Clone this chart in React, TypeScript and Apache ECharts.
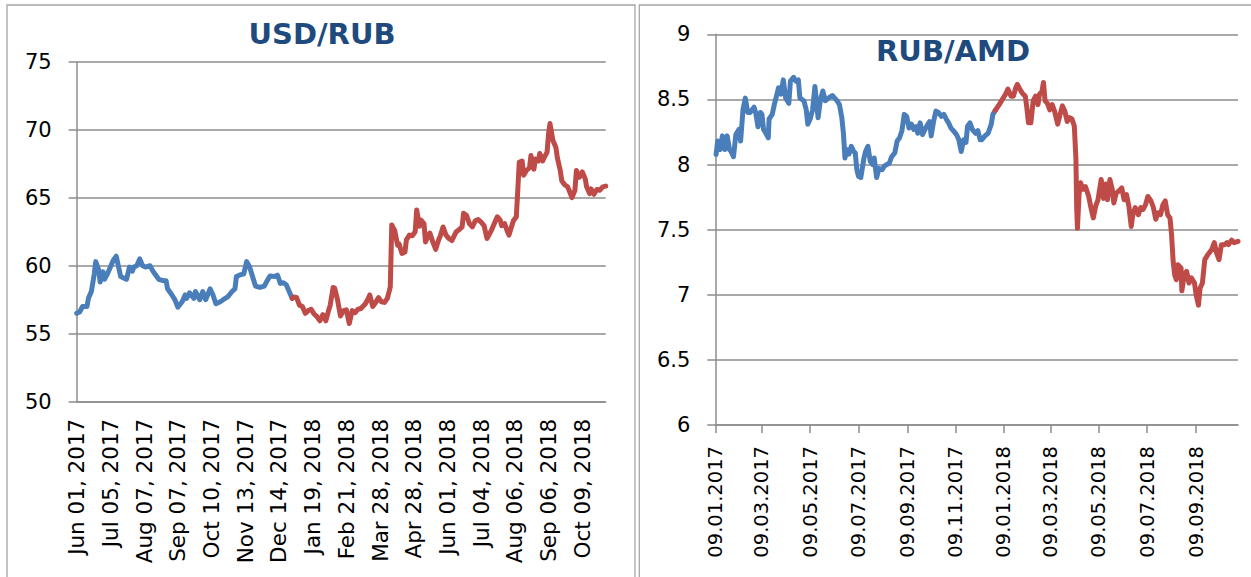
import React, { useEffect, useRef } from "react";
import * as echarts from "echarts";

// ---------- Left chart: USD/RUB (x = trading-day index since Jun 01, 2017) ----------
const usdLabelStep = 23;
const usdLastDay = 361;
const usdLabels = [
  "Jun 01, 2017", "Jul 05, 2017", "Aug 07, 2017", "Sep 07, 2017", "Oct 10, 2017",
  "Nov 13, 2017", "Dec 14, 2017", "Jan 19, 2018", "Feb 21, 2018", "Mar 28, 2018",
  "Apr 28, 2018", "Jun 01, 2018", "Jul 04, 2018", "Aug 06, 2018", "Sep 06, 2018",
  "Oct 09, 2018",
];
const usd2017 = [
  [0, 56.5], [2, 56.6], [4, 57.0], [7, 57.0], [8, 57.6], [10, 58.1], [12, 59.4], [13, 60.3],
  [15, 59.7], [16, 58.8], [18, 59.55], [19, 59.0], [21, 59.4], [23, 59.9], [25, 60.4], [27, 60.7],
  [30, 59.2], [32, 59.1], [34, 59.0], [36, 59.9], [38, 59.6], [39, 59.9], [41, 60.0], [43, 60.5],
  [45, 60.0], [47, 59.9], [50, 60.0], [52, 59.6], [54, 59.3], [56, 59.0], [59, 58.9], [61, 58.9],
  [62, 58.3], [65, 57.85], [67, 57.5], [69, 56.95], [72, 57.35], [74, 57.85], [75, 57.6], [77, 58.0],
  [80, 57.6], [81, 58.1], [84, 57.5], [86, 58.1], [88, 57.5], [91, 58.3], [93, 57.85], [95, 57.2],
  [98, 57.35], [100, 57.5], [103, 57.7], [106, 58.1], [108, 58.3], [109, 59.2], [111, 59.3], [114, 59.4],
  [116, 60.3], [118, 59.9], [120, 59.2], [122, 58.5], [125, 58.4], [128, 58.5], [130, 58.9], [132, 59.25],
  [135, 59.2], [137, 59.3], [139, 58.7], [141, 58.75], [143, 58.6], [145, 58.1], [147, 57.6],
];
const usd2018 = [
  [147, 57.6], [148, 57.7], [150, 57.67], [152, 57.1], [154, 57.0], [156, 56.5], [158, 56.7], [160, 56.8],
  [162, 56.45], [164, 56.25], [166, 55.95], [168, 56.4], [170, 55.95], [172, 56.75], [173, 57.1], [175, 58.4],
  [176, 58.35], [178, 57.5], [180, 56.3], [182, 56.7], [184, 56.75], [186, 55.75], [188, 56.7], [190, 56.55],
  [192, 56.8], [194, 56.85], [197, 57.2], [199, 57.6], [200, 57.85], [202, 57.0], [204, 57.3], [206, 57.65],
  [208, 57.35], [210, 57.3], [212, 57.6], [214, 58.45], [215, 63.0], [217, 62.6], [219, 61.5], [220, 61.6],
  [222, 60.9], [224, 61.0], [225, 61.9], [227, 62.25], [229, 62.2], [231, 62.5], [232, 64.1], [234, 62.9],
  [235, 63.35], [237, 63.1], [238, 61.75], [240, 62.25], [241, 62.4], [243, 61.75], [245, 61.2], [247, 61.9],
  [248, 62.15], [250, 62.85], [252, 62.25], [254, 62.0], [256, 61.85], [259, 62.5], [261, 62.65], [263, 62.85],
  [264, 63.85], [266, 63.7], [268, 63.1], [270, 62.85], [272, 63.3], [274, 63.4], [276, 63.2], [278, 62.95],
  [280, 62.0], [281, 62.2], [283, 62.6], [285, 63.1], [287, 63.6], [289, 63.35], [290, 62.95], [292, 63.1],
  [294, 62.5], [295, 62.25], [297, 62.95], [298, 63.3], [300, 63.6], [301, 65.55], [302, 67.6], [304, 67.7],
  [305, 66.65], [307, 67.0], [309, 67.2], [310, 68.1], [312, 67.1], [313, 67.85], [315, 67.7], [316, 68.25],
  [318, 67.7], [319, 67.95], [321, 68.35], [322, 69.7], [323, 70.45], [325, 69.2], [327, 68.7], [328, 67.95],
  [330, 67.0], [331, 66.25], [333, 65.95], [335, 65.8], [336, 65.55], [338, 65.0], [340, 65.55], [341, 67.0],
  [343, 66.5], [345, 66.9], [347, 66.4], [348, 65.8], [350, 65.3], [351, 65.65], [353, 65.25], [355, 65.6],
  [357, 65.55], [359, 65.8], [361, 65.85],
];

// ---------- Right chart: RUB/AMD (x = calendar days since 09.01.2017) ----------
const amdLastDay = 661;
const amdLabels = [
  "09.01.2017", "09.03.2017", "09.05.2017", "09.07.2017", "09.09.2017", "09.11.2017",
  "09.01.2018", "09.03.2018", "09.05.2018", "09.07.2018", "09.09.2018",
];
const amd2017 = [
  [1, 8.077], [3, 8.18], [6, 8.115], [9, 8.22], [12, 8.115], [15, 8.22], [18, 8.115], [20, 8.1],
  [23, 8.06], [26, 8.23], [30, 8.27], [32, 8.18], [35, 8.42], [38, 8.51], [41, 8.4], [44, 8.4],
  [49, 8.44], [51, 8.4], [54, 8.29], [57, 8.4], [59, 8.385], [61, 8.27], [64, 8.24], [67, 8.205],
  [68, 8.35], [72, 8.385], [75, 8.47], [78, 8.54], [80, 8.59], [83, 8.54], [86, 8.65], [89, 8.51],
  [93, 8.47], [95, 8.64], [99, 8.67], [102, 8.64], [105, 8.65], [107, 8.51], [112, 8.49], [115, 8.42],
  [117, 8.31], [120, 8.35], [123, 8.42], [126, 8.6], [130, 8.36], [133, 8.5], [136, 8.565], [139, 8.49],
  [143, 8.51], [148, 8.53], [151, 8.51], [154, 8.49], [157, 8.46], [160, 8.36], [162, 8.24], [164, 8.05],
  [166, 8.115], [169, 8.08], [172, 8.14], [175, 8.1], [177, 8.09], [179, 7.96], [181, 7.91], [184, 7.9],
  [188, 8.05], [190, 8.1], [193, 8.14], [196, 8.025], [199, 8.0], [201, 8.05], [204, 7.9], [207, 7.97],
  [211, 7.96], [214, 7.99], [217, 8.0], [220, 8.01], [223, 8.06], [227, 8.09], [230, 8.18], [233, 8.205],
  [236, 8.26], [239, 8.385], [242, 8.37], [245, 8.28], [248, 8.31], [251, 8.27], [254, 8.29], [256, 8.24],
  [259, 8.32], [262, 8.23], [266, 8.28], [269, 8.31], [271, 8.33], [273, 8.22], [276, 8.33], [279, 8.41],
  [282, 8.4], [286, 8.37], [289, 8.385], [292, 8.35], [295, 8.32], [298, 8.28], [301, 8.26], [305, 8.23],
  [308, 8.19], [311, 8.1], [314, 8.19], [317, 8.17], [319, 8.295], [322, 8.32], [325, 8.27], [329, 8.24],
  [332, 8.26], [335, 8.19], [337, 8.19], [341, 8.22], [345, 8.24], [349, 8.31], [351, 8.385], [354, 8.415],
];
const amd2018 = [
  [354, 8.415], [359, 8.46], [363, 8.5], [367, 8.54], [370, 8.58], [374, 8.525], [377, 8.525], [380, 8.59],
  [382, 8.615], [385, 8.58], [388, 8.55], [392, 8.525], [394, 8.435], [396, 8.32], [399, 8.32], [402, 8.49],
  [405, 8.525], [408, 8.46], [410, 8.54], [413, 8.56], [415, 8.63], [417, 8.49], [420, 8.47], [423, 8.42],
  [426, 8.46], [429, 8.41], [433, 8.31], [436, 8.385], [439, 8.45], [442, 8.41], [445, 8.33], [448, 8.36],
  [451, 8.35], [454, 8.295], [456, 8.05], [457, 7.67], [458, 7.51], [460, 7.77], [462, 7.86], [465, 7.81],
  [468, 7.83], [472, 7.76], [475, 7.67], [478, 7.59], [481, 7.68], [484, 7.73], [488, 7.885], [491, 7.74],
  [494, 7.85], [496, 7.73], [499, 7.885], [502, 7.81], [504, 7.705], [507, 7.78], [510, 7.795], [514, 7.82],
  [517, 7.73], [520, 7.77], [523, 7.68], [526, 7.525], [528, 7.615], [531, 7.67], [535, 7.615], [538, 7.67],
  [541, 7.655], [544, 7.69], [547, 7.755], [551, 7.72], [554, 7.67], [557, 7.58], [560, 7.63], [563, 7.615],
  [566, 7.69], [569, 7.72], [572, 7.615], [575, 7.59], [577, 7.46], [579, 7.255], [581, 7.15], [583, 7.115],
  [585, 7.23], [589, 7.205], [590, 7.03], [593, 7.15], [596, 7.18], [599, 7.09], [602, 7.13], [606, 7.09],
  [608, 7.0], [611, 6.92], [613, 7.05], [616, 7.09], [619, 7.27], [623, 7.31], [628, 7.35], [631, 7.4],
  [634, 7.32], [637, 7.27], [640, 7.385], [644, 7.385], [647, 7.4], [649, 7.385], [653, 7.42], [656, 7.4],
  [661, 7.41],
];

const BLUE = "#4A7EBB";
const RED = "#BE4B48";
const GRID = "#8C8C8C";
const TITLE = "#1F4A7E";
const FONT = "DejaVu Sans";

function dayOffset(label: string, base: string) {
  const p = (s: string) => {
    const [d, m, y] = s.split(".").map(Number);
    return Date.UTC(y, m - 1, d);
  };
  return Math.round((p(label) - p(base)) / 86400000);
}

export default function App() {
  const ref = useRef<HTMLDivElement>(null);

  useEffect(() => {
    document.body.style.margin = "0";
    const chart = echarts.init(ref.current!, null, { renderer: "svg" });

    const amdTickDays = amdLabels.map((l) => dayOffset(l, amdLabels[0]));
    const amdLabelByDay: Record<number, string> = {};
    amdTickDays.forEach((d, i) => (amdLabelByDay[d] = amdLabels[i]));

    const gridLine = { color: GRID, width: 1.5 };
    const lineSeries = (data: number[][], color: string, idx: number) => ({
      type: "line",
      xAxisIndex: idx,
      yAxisIndex: idx,
      data,
      showSymbol: false,
      symbol: "none",
      lineStyle: { color, width: 5, join: "round", cap: "round" },
    });

    const option: any = {
      animation: false,
      backgroundColor: "#ffffff",
      textStyle: { fontFamily: FONT },
      grid: [
        { left: 76.7, top: 61.7, width: 529, height: 340 },
        { left: 715.3, top: 34.3, width: 522.7, height: 390.7 },
      ],
      xAxis: [
        {
          type: "value",
          gridIndex: 0,
          min: 0,
          max: usdLastDay,
          interval: usdLabelStep,
          axisLine: { show: true, onZero: false, lineStyle: gridLine },
          axisTick: { show: false },
          splitLine: { show: false },
          axisLabel: {
            rotate: 90,
            margin: 17,
            fontSize: 21.5,
            fontFamily: FONT,
            color: "#000",
            formatter: (v: number) => {
              const i = Math.round(v / usdLabelStep);
              return Math.abs(i * usdLabelStep - v) < 1e-6 && usdLabels[i] ? usdLabels[i] : "";
            },
          },
        },
        {
          type: "value",
          gridIndex: 1,
          min: 0,
          max: amdLastDay,
          axisLine: { show: true, onZero: false, lineStyle: gridLine },
          axisTick: { show: true, length: 8, customValues: amdTickDays, lineStyle: gridLine },
          splitLine: { show: false },
          axisLabel: {
            customValues: amdTickDays,
            rotate: 90,
            margin: 21,
            fontSize: 19.5,
            fontFamily: FONT,
            color: "#000",
            formatter: (v: number) => amdLabelByDay[Math.round(v)] ?? "",
          },
        },
      ],
      yAxis: [
        {
          type: "value",
          gridIndex: 0,
          min: 50,
          max: 75,
          interval: 5,
          axisLine: { show: true, onZero: false, lineStyle: gridLine },
          axisTick: { show: true, length: 8, lineStyle: gridLine },
          splitLine: { show: true, lineStyle: gridLine },
          axisLabel: { fontSize: 21, margin: 25, color: "#000", fontFamily: FONT },
        },
        {
          type: "value",
          gridIndex: 1,
          min: 6,
          max: 9,
          interval: 0.5,
          axisLine: { show: true, onZero: false, lineStyle: gridLine },
          axisTick: { show: true, length: 8, lineStyle: gridLine },
          splitLine: { show: true, lineStyle: gridLine },
          axisLabel: { fontSize: 21, margin: 25, color: "#000", fontFamily: FONT },
        },
      ],
      graphic: [
        {
          type: "rect",
          shape: { x: 7, y: 5, width: 628, height: 600 },
          style: { fill: "none", stroke: "#A6A6A6", lineWidth: 1.3 },
          silent: true,
        },
        {
          type: "rect",
          shape: { x: 639.3, y: 5, width: 700, height: 600 },
          style: { fill: "none", stroke: "#A6A6A6", lineWidth: 1.3 },
          silent: true,
        },
        {
          type: "text",
          x: 322,
          y: 34,
          style: {
            text: "USD/RUB",
            fill: TITLE,
            fontSize: 29,
            fontWeight: "bold",
            fontFamily: FONT,
            align: "center",
            verticalAlign: "middle",
          },
        },
        {
          type: "text",
          x: 953,
          y: 50.5,
          style: {
            text: "RUB/AMD",
            fill: TITLE,
            fontSize: 29,
            fontWeight: "bold",
            fontFamily: FONT,
            align: "center",
            verticalAlign: "middle",
          },
        },
      ],
      series: [
        lineSeries(usd2017, BLUE, 0),
        lineSeries(usd2018, RED, 0),
        lineSeries(amd2017, BLUE, 1),
        lineSeries(amd2018, RED, 1),
      ],
    };

    chart.setOption(option);
    return () => chart.dispose();
  }, []);

  return (
    <div
      ref={ref}
      style={{ position: "fixed", left: 0, top: 0, width: 1251, height: 577, background: "#fff" }}
    />
  );
}
